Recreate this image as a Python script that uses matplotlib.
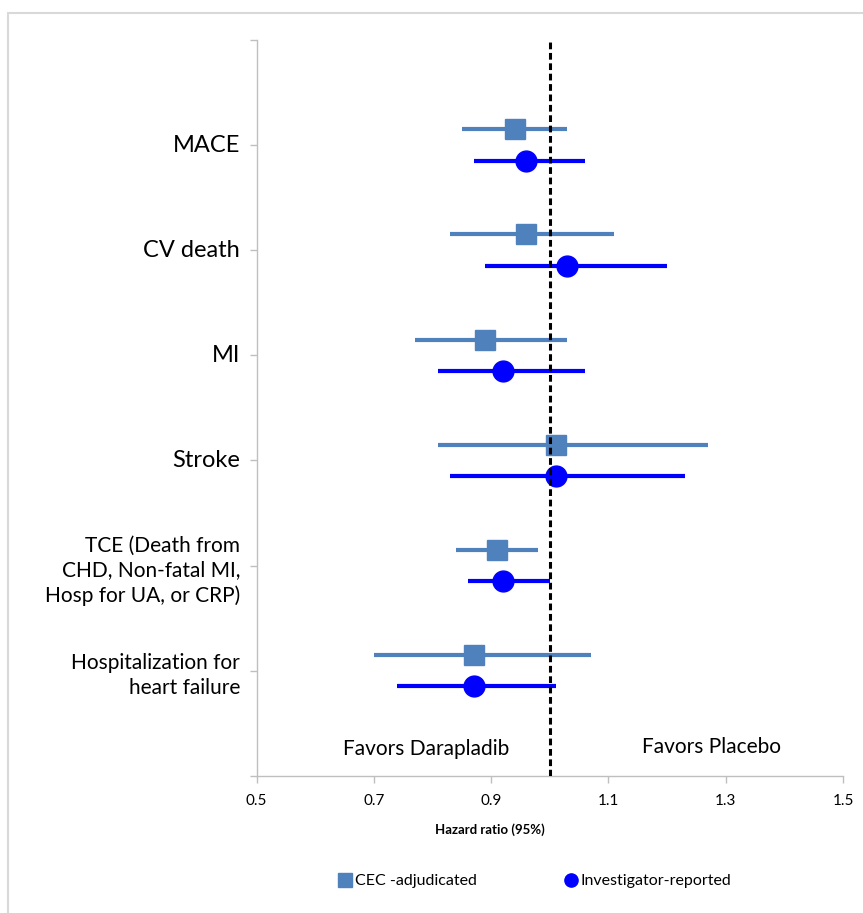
import matplotlib
matplotlib.use('Agg')
import matplotlib.pyplot as plt
from matplotlib.lines import Line2D
from matplotlib.patches import Rectangle

# outcomes, top to bottom
outcomes = ["MACE", "CV death", "MI", "Stroke",
            "TCE (Death from\nCHD, Non-fatal MI,\nHosp for UA, or CRP)",
            "Hospitalization for\nheart failure"]
label_sizes = [17, 17, 17, 17, 15, 15]

cec_hr = [0.94, 0.96, 0.89, 1.01, 0.91, 0.87]
cec_lo = [0.85, 0.83, 0.77, 0.81, 0.84, 0.70]
cec_hi = [1.03, 1.11, 1.03, 1.27, 0.98, 1.07]

inv_hr = [0.96, 1.03, 0.92, 1.01, 0.92, 0.87]
inv_lo = [0.87, 0.89, 0.81, 0.83, 0.86, 0.74]
inv_hi = [1.06, 1.20, 1.06, 1.23, 1.00, 1.01]

x_ticks = [0.5, 0.7, 0.9, 1.1, 1.3, 1.5]

cec_color = "#4F81BD"
inv_color = "#0000FF"
axis_gray = "#BFBFBF"

plt.rcParams['font.family'] = ['Lato', 'DejaVu Sans']

fig = plt.figure(figsize=(8.63, 9.13), dpi=100)
ax = fig.add_axes([256.5 / 863, 1 - 775.7 / 913, (843 - 256.5) / 863, (775.7 - 40) / 913])

ypos = [6 - i for i in range(len(outcomes))]
y_cec = [y + 0.15 for y in ypos]
y_inv = [y - 0.15 for y in ypos]

ax.errorbar(cec_hr, y_cec,
            xerr=[[h - l for h, l in zip(cec_hr, cec_lo)], [u - h for h, u in zip(cec_hr, cec_hi)]],
            fmt='s', color=cec_color, ms=15, elinewidth=3, capsize=0, zorder=3)
ax.errorbar(inv_hr, y_inv,
            xerr=[[h - l for h, l in zip(inv_hr, inv_lo)], [u - h for h, u in zip(inv_hr, inv_hi)]],
            fmt='o', color=inv_color, ms=15, elinewidth=3, capsize=0, zorder=3)

ax.axvline(1.0, color='black', lw=2.2, linestyle=(0, (2.2, 1.2)), zorder=4)

ax.set_xlim(0.5, 1.5)
ax.set_ylim(0, 7)
ax.set_xticks(x_ticks)
ax.set_xticklabels([f"{t:.1f}" for t in x_ticks], fontsize=11)
ax.set_yticks(range(0, 8))
ax.set_yticklabels([])
ax.tick_params(axis='both', color=axis_gray, length=5, width=1)
ax.tick_params(axis='x', pad=8)
for s in ['top', 'right']:
    ax.spines[s].set_visible(False)
for s in ['left', 'bottom']:
    ax.spines[s].set_color(axis_gray)
    ax.spines[s].set_linewidth(1)

for name, y, fs in zip(outcomes, ypos, label_sizes):
    ax.text(-0.028, y if fs > 16 else y - 0.05, name, transform=ax.get_yaxis_transform(),
            ha='right', va='center', fontsize=fs, multialignment='right', linespacing=1.3)

ax.text(0.79, 0.25, "Favors Darapladib", fontsize=15, ha='center', va='center')
ax.text(1.275, 0.27, "Favors Placebo", fontsize=15, ha='center', va='center')

fig.text(490 / 863, 1 - 830 / 913, "Hazard ratio (95%)", fontsize=9.5, fontweight='bold',
         ha='center', va='center')

handles = [Line2D([], [], marker='s', ls='none', color=cec_color, ms=9.5),
           Line2D([], [], marker='o', ls='none', color=inv_color, ms=9.5)]
fig.legend(handles, ["CEC -adjudicated", "Investigator-reported"], loc='center',
           bbox_to_anchor=(536 / 863, 1 - 881 / 913), ncol=2, frameon=False, fontsize=11.5,
           handlelength=0.6, handletextpad=0.3, columnspacing=5.6)

fig.patches.append(Rectangle((8 / 863, -0.1), 1.2, 1 - 13 / 913 + 0.1, transform=fig.transFigure,
                             fill=False, edgecolor='#D9D9D9', lw=1.5))

fig.savefig("out.png", dpi=100)
